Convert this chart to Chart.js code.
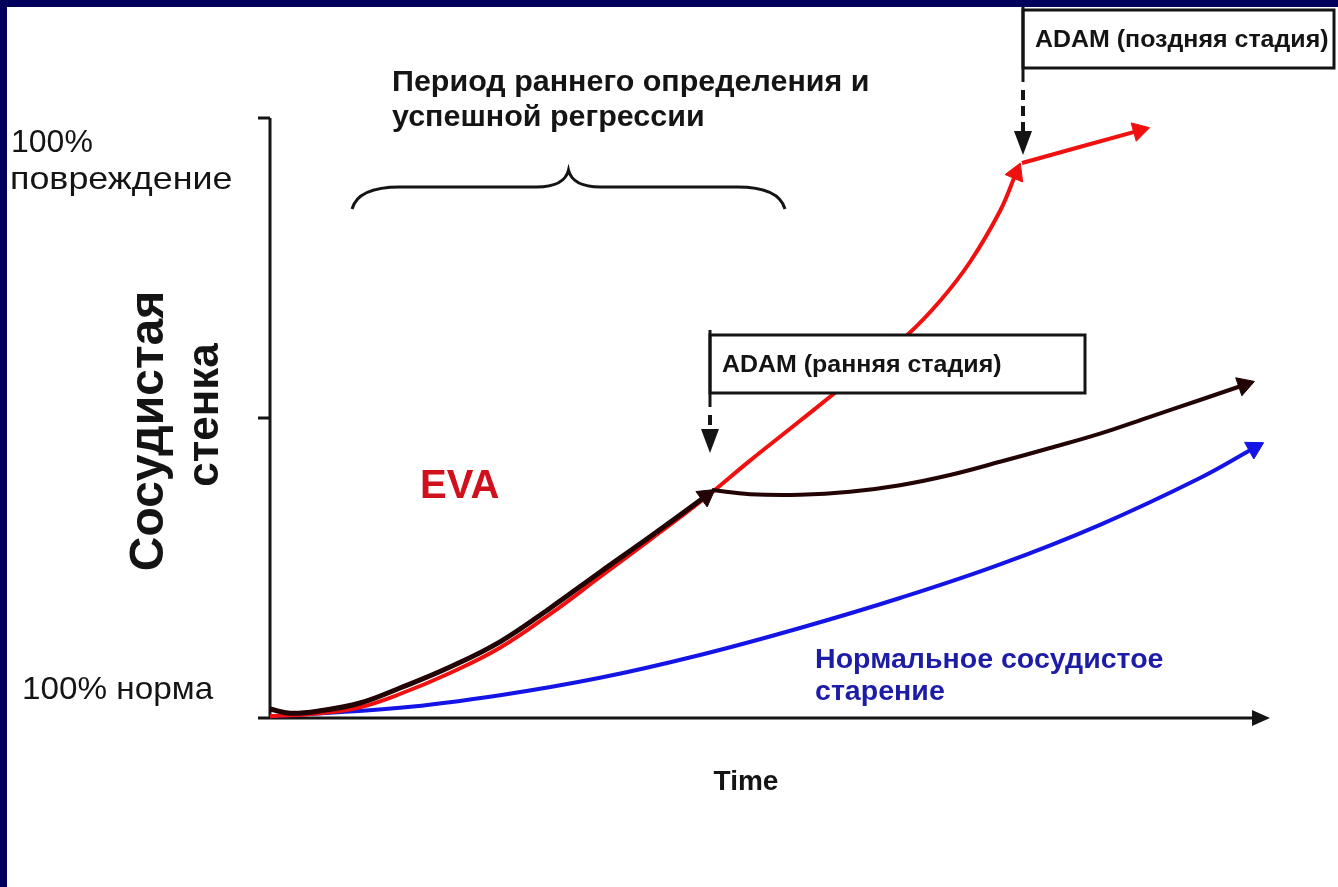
<!DOCTYPE html>
<html>
<head>
<meta charset="utf-8">
<script src="https://cdn.jsdelivr.net/npm/chart.js@4"></script>
<style>
  html, body { margin: 0; padding: 0; background: #fff; }
  #wrap { width: 1338px; height: 887px; }
</style>
</head>
<body>
<div id="wrap"><canvas id="vesselChart" width="1338" height="887"></canvas></div>
<script>
// Нормальное сосудистое старение (синяя)
const agingX = [0, 13, 23, 33, 43, 53, 63, 73, 83, 93, 98.4];
const agingY = [0.3, 1.7, 3.8, 6.7, 10.5, 15, 20, 25.6, 32.2, 40.0, 45.0];

// EVA до ранней ADAM (черная)
const evaX = [0, 2, 5, 9, 13, 18, 23, 28, 33, 38, 43.6];
const evaY = [1.5, 0.8, 1.2, 2.5, 5, 8.5, 12.7, 18.3, 24.3, 30.2, 37];

// после ранней ADAM (черная)
const earlyX = [44.2, 48, 53, 58, 63, 68, 73, 78, 83, 88, 93, 97.4];
const earlyY = [38, 37.3, 37.2, 37.7, 38.8, 40.5, 42.7, 45.0, 47.4, 50.2, 53.0, 55.5];

// без лечения до поздней ADAM (красная)
const lateX = [0, 5, 9, 13, 18, 23, 28, 33, 38, 43, 48, 52, 56.5, 60, 63.7, 67, 70, 73, 74.6];
const lateY = [0.3, 0.8, 1.8, 4, 7.5, 11.7, 17.3, 23.5, 29.7, 36, 42.9, 48.2, 54.2, 59, 63.8, 69.5, 76, 84.5, 90.8];

// после поздней ADAM (красная)
const afterLateX = [75.2, 86.9];
const afterLateY = [92.5, 97.9];

const yTickValues = [0, 50, 100];
const yTickLabels = { 0: ['100% норма'], 100: ['100%', 'повреждение'] };
const yTitle = ['Сосудистая', 'стенка'];
const xTitle = 'Time';
const periodLabel = ['Период раннего определения и', 'успешной регрессии'];
const periodRange = [8.2, 51.5];
const adamEarly = 'ADAM (ранняя стадия)';
const adamLate = 'ADAM (поздняя стадия)';

const FONT = "'Liberation Sans', Arial, sans-serif";
const INK = '#141414';

function toPoints(xs, ys) {
  return xs.map((x, i) => ({ x, y: ys[i] }));
}

function arrowRotation(ctx) {
  const data = ctx.dataset.data;
  const i = ctx.dataIndex;
  if (i !== data.length - 1 || i === 0) return 0;
  const xs = ctx.chart.scales.x, ys = ctx.chart.scales.y;
  const a = data[i - 1], b = data[i];
  const dx = xs.getPixelForValue(b.x) - xs.getPixelForValue(a.x);
  const dy = ys.getPixelForValue(b.y) - ys.getPixelForValue(a.y);
  return Math.atan2(dy, dx) * 180 / Math.PI + 90;
}

function curve(label, xs, ys, color, width) {
  return {
    label,
    data: toPoints(xs, ys),
    borderColor: color,
    backgroundColor: color,
    borderWidth: width,
    tension: 0.4,
    pointStyle: 'triangle',
    pointRadius: ctx => ctx.dataIndex === ctx.dataset.data.length - 1 ? 11 : 0,
    pointBorderWidth: 1,
    pointBorderColor: color,
    pointRotation: arrowRotation,
    clip: false,
    fill: false
  };
}

function text(ctx, str, x, y, font, color, align, sx, rot) {
  ctx.save();
  ctx.font = font;
  ctx.fillStyle = color;
  ctx.textAlign = align || 'left';
  ctx.textBaseline = 'middle';
  ctx.translate(x, y);
  if (rot) ctx.rotate(rot);
  ctx.scale(sx || 1, 1);
  ctx.fillText(str, 0, 0);
  ctx.restore();
}

function downArrow(ctx, x, yFrom, tipY, dashed) {
  ctx.save();
  ctx.strokeStyle = INK;
  ctx.fillStyle = INK;
  ctx.lineWidth = 4;
  if (dashed) ctx.setLineDash([10, 6]);
  ctx.beginPath();
  ctx.moveTo(x, yFrom);
  ctx.lineTo(x, tipY - 22);
  ctx.stroke();
  ctx.setLineDash([]);
  ctx.beginPath();
  ctx.moveTo(x - 9, tipY - 24);
  ctx.lineTo(x + 9, tipY - 24);
  ctx.lineTo(x, tipY);
  ctx.closePath();
  ctx.fill();
  ctx.restore();
}

function adamBox(ctx, label, x, top, bottom, right, tipY, lineTop) {
  ctx.save();
  ctx.fillStyle = '#fff';
  ctx.fillRect(x, top, right - x, bottom - top);
  ctx.strokeStyle = INK;
  ctx.lineWidth = 3;
  ctx.strokeRect(x, top, right - x, bottom - top);
  ctx.beginPath();
  ctx.moveTo(x, lineTop);
  ctx.lineTo(x, bottom + 14);
  ctx.stroke();
  ctx.restore();
  text(ctx, label, x + 12, (top + bottom) / 2 + 1, 'bold 24px ' + FONT, INK, 'left', 1.04);
  downArrow(ctx, x, bottom + 22, tipY, true);
}

const decor = {
  id: 'decor',
  beforeDraw(chart) {
    const ctx = chart.ctx;
    ctx.save();
    ctx.fillStyle = '#fff';
    ctx.fillRect(0, 0, chart.width, chart.height);
    ctx.fillStyle = '#00005c';
    ctx.fillRect(0, 0, chart.width, 7);
    ctx.fillRect(0, 0, 7, chart.height);
    ctx.restore();
  },
  beforeDatasetsDraw(chart) {
    const ctx = chart.ctx;
    const xs = chart.scales.x, ys = chart.scales.y;
    const x0 = xs.getPixelForValue(0), x1 = xs.getPixelForValue(100);
    const y0 = ys.getPixelForValue(0), y1 = ys.getPixelForValue(100);
    ctx.save();
    ctx.strokeStyle = INK;
    ctx.fillStyle = INK;
    ctx.lineWidth = 3;
    // оси
    ctx.beginPath();
    ctx.moveTo(x0, y1);
    ctx.lineTo(x0, y0);
    ctx.moveTo(x0 - 12, y0);
    ctx.lineTo(x1 - 14, y0);
    yTickValues.forEach(v => {
      if (v === 0) return;
      const y = ys.getPixelForValue(v);
      ctx.moveTo(x0 - 12, y);
      ctx.lineTo(x0, y);
    });
    ctx.stroke();
    ctx.beginPath();
    ctx.moveTo(x1, y0);
    ctx.lineTo(x1 - 18, y0 - 8);
    ctx.lineTo(x1 - 18, y0 + 8);
    ctx.closePath();
    ctx.fill();
    ctx.restore();

    // подписи оси Y
    const regular = '32px ' + FONT;
    text(ctx, yTickLabels[100][0], 11, y1 + 25, regular, INK);
    text(ctx, yTickLabels[100][1], 10, y1 + 62, regular, INK, 'left', 1.12);
    text(ctx, yTickLabels[0][0], 22, y0 - 28, regular, INK, 'left', 1.04);

    // заголовок оси Y
    text(ctx, yTitle[0], 150, 431, 'bold 48px ' + FONT, INK, 'center', 1, -Math.PI / 2);
    text(ctx, yTitle[1], 206, 415, 'bold 44px ' + FONT, INK, 'center', 1, -Math.PI / 2);

    text(ctx, xTitle, 746, 782, 'bold 28px ' + FONT, INK, 'center');

    // период раннего определения
    text(ctx, periodLabel[0], 392, 83, 'bold 29px ' + FONT, INK, 'left', 1.05);
    text(ctx, periodLabel[1], 392, 118, 'bold 29px ' + FONT, INK, 'left', 1.05);
    const bl = xs.getPixelForValue(periodRange[0]);
    const br = xs.getPixelForValue(periodRange[1]);
    const mid = (bl + br) / 2;
    ctx.save();
    ctx.strokeStyle = INK;
    ctx.lineWidth = 3;
    ctx.beginPath();
    ctx.moveTo(bl, 209);
    ctx.quadraticCurveTo(bl + 6, 187, bl + 48, 187);
    ctx.lineTo(mid - 32, 187);
    ctx.quadraticCurveTo(mid - 4, 187, mid, 170);
    ctx.quadraticCurveTo(mid + 4, 187, mid + 32, 187);
    ctx.lineTo(br - 48, 187);
    ctx.quadraticCurveTo(br - 6, 187, br, 209);
    ctx.stroke();
    ctx.restore();

    text(ctx, 'EVA', 420, 487, 'bold 40px ' + FONT, '#d0101c');
    text(ctx, 'Нормальное сосудистое', 815, 660, 'bold 28px ' + FONT, '#1c1ca6', 'left', 1.02);
    text(ctx, 'старение', 815, 692, 'bold 28px ' + FONT, '#1c1ca6', 'left', 1.02);
  },
  afterDatasetsDraw(chart) {
    const ctx = chart.ctx;
    const xs = chart.scales.x, ys = chart.scales.y;
    const ex = xs.getPixelForValue(earlyX[0]) - 2;
    const ey = ys.getPixelForValue(earlyY[0]);
    adamBox(ctx, adamEarly, ex, 335, 393, 1085, ey - 37, 330);
    const lx = xs.getPixelForValue(afterLateX[0]) + 1;
    const ly = ys.getPixelForValue(afterLateY[0]);
    adamBox(ctx, adamLate, lx, 10, 68, 1334, ly - 8, 7);
  }
};

new Chart(document.getElementById('vesselChart'), {
  type: 'line',
  data: {
    datasets: [
      curve('EVA', evaX, evaY, '#220404', 5),
      curve('EVA после ADAM', earlyX, earlyY, '#220404', 4),
      curve('Без лечения', lateX, lateY, '#f01010', 4),
      curve('Поздняя стадия', afterLateX, afterLateY, '#f01010', 4),
      curve('Нормальное сосудистое старение', agingX, agingY, '#1414e6', 4)
    ]
  },
  options: {
    responsive: false,
    animation: false,
    devicePixelRatio: 1,
    layout: { padding: { left: 270, right: 68, top: 118, bottom: 169 } },
    scales: {
      x: { type: 'linear', min: 0, max: 100, display: false },
      y: { type: 'linear', min: 0, max: 100, display: false }
    },
    plugins: {
      legend: { display: false },
      tooltip: { enabled: false }
    }
  },
  plugins: [decor]
});
</script>
</body>
</html>
